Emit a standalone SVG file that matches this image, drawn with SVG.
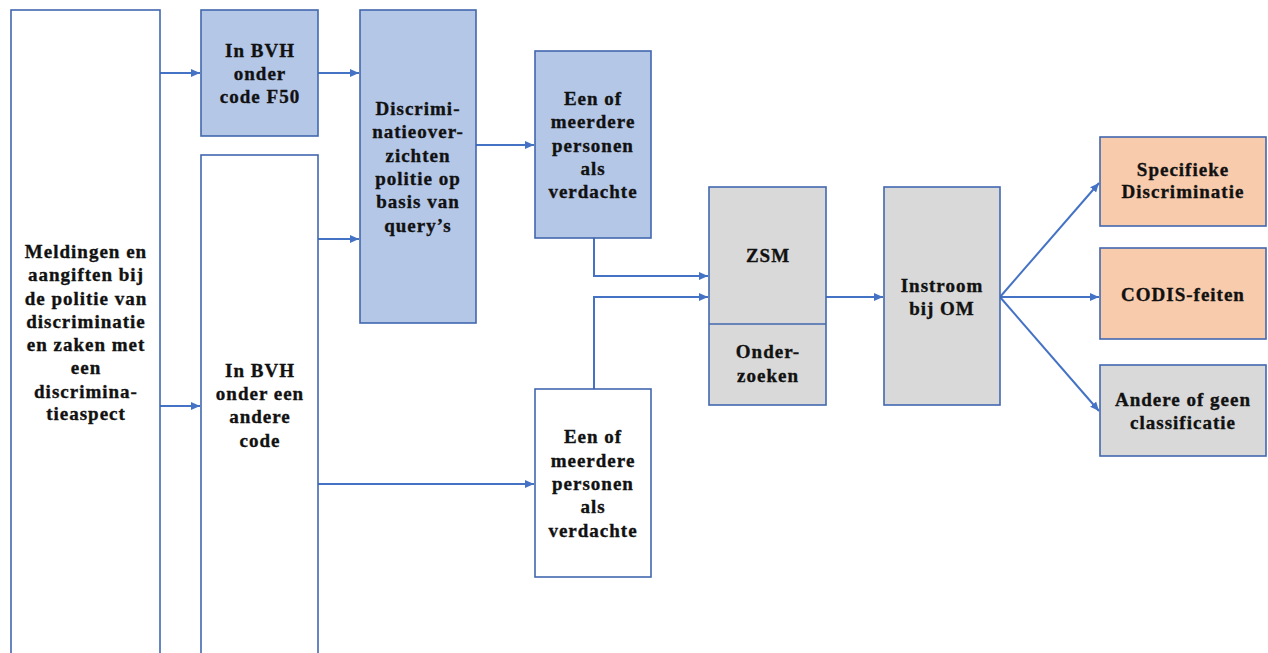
<svg xmlns="http://www.w3.org/2000/svg" width="1268" height="653" viewBox="0 0 1268 653">
<style>
.box{stroke:#4267AE;stroke-width:1.6}
.w{fill:#FFFFFF}.b{fill:#B4C7E7}.g{fill:#D9D9D9}.o{fill:#F8CBAD}
text{font-family:"Liberation Serif","Times New Roman",serif;font-weight:bold;font-size:19px;letter-spacing:1px;fill:#111;stroke:#111;stroke-width:0.35;text-anchor:middle}
.c{fill:none;stroke:#4472C4;stroke-width:2}
</style>
<defs>
<marker id="ah" markerUnits="userSpaceOnUse" markerWidth="10" markerHeight="8" refX="9" refY="4" orient="auto">
<path d="M0,0 L9,4 L0,8 Z" fill="#4472C4"/>
</marker>
</defs>
<rect width="1268" height="653" fill="#FFFFFF"/>
<g id="connectors">
<path class="c" d="M160,73 H200" marker-end="url(#ah)"/>
<path class="c" d="M318,73 H359" marker-end="url(#ah)"/>
<path class="c" d="M318,239 H359" marker-end="url(#ah)"/>
<path class="c" d="M160,406 H200" marker-end="url(#ah)"/>
<path class="c" d="M476,145 H534" marker-end="url(#ah)"/>
<path class="c" d="M318,484 H534" marker-end="url(#ah)"/>
<path class="c" d="M594,238 V276 H708" marker-end="url(#ah)"/>
<path class="c" d="M594,389 V297 H708" marker-end="url(#ah)"/>
<path class="c" d="M826,297 H883" marker-end="url(#ah)"/>
<path class="c" d="M1000,297 L1099,183" marker-end="url(#ah)"/>
<path class="c" d="M1000,297 H1099" marker-end="url(#ah)"/>
<path class="c" d="M1000,297 L1099,411" marker-end="url(#ah)"/>
</g>
<g id="meldingen">
<rect class="box w" x="11" y="10" width="149" height="700"/>
<text x="86" y="258">Meldingen en</text>
<text x="86" y="281">aangiften bij</text>
<text x="86" y="305">de politie van</text>
<text x="86" y="328">discriminatie</text>
<text x="86" y="351">en zaken  met</text>
<text x="86" y="374">een</text>
<text x="86" y="398">discrimina-</text>
<text x="86" y="420">tieaspect</text>
</g>
<g id="bvh-f50">
<rect class="box b" x="201" y="10" width="117" height="126"/>
<text x="260" y="57">In BVH</text>
<text x="260" y="80">onder</text>
<text x="260" y="103">code F50</text>
</g>
<g id="bvh-andere">
<rect class="box w" x="201" y="155" width="117" height="560"/>
<text x="260" y="377">In BVH</text>
<text x="260" y="400">onder een</text>
<text x="260" y="423">andere</text>
<text x="260" y="447">code</text>
</g>
<g id="discriminatieoverzichten">
<rect class="box b" x="360" y="10" width="116" height="313"/>
<text x="418" y="115">Discrimi-</text>
<text x="418" y="138">natieover-</text>
<text x="418" y="162">zichten</text>
<text x="418" y="185">politie op</text>
<text x="418" y="208">basis van</text>
<text x="418" y="232">query’s</text>
</g>
<g id="verdachte-blauw">
<rect class="box b" x="535" y="51" width="116" height="187"/>
<text x="593" y="105">Een of</text>
<text x="593" y="128">meerdere</text>
<text x="593" y="152">personen</text>
<text x="593" y="175">als</text>
<text x="593" y="198">verdachte</text>
</g>
<g id="verdachte-wit">
<rect class="box w" x="535" y="389" width="116" height="188"/>
<text x="593" y="443">Een of</text>
<text x="593" y="467">meerdere</text>
<text x="593" y="490">personen</text>
<text x="593" y="513">als</text>
<text x="593" y="537">verdachte</text>
</g>
<g id="zsm">
<rect class="box g" x="709" y="187" width="117" height="218"/>
<line class="box" x1="709" y1="324" x2="826" y2="324"/>
<text x="768" y="262">ZSM</text>
<text x="768" y="358">Onder-</text>
<text x="768" y="382">zoeken</text>
</g>
<g id="instroom">
<rect class="box g" x="884" y="187" width="116" height="218"/>
<text x="942" y="292">Instroom</text>
<text x="942" y="315">bij OM</text>
</g>
<g id="specifieke">
<rect class="box o" x="1100" y="137" width="166" height="89"/>
<text x="1183" y="176">Specifieke</text>
<text x="1183" y="198">Discriminatie</text>
</g>
<g id="codis">
<rect class="box o" x="1100" y="248" width="166" height="91"/>
<text x="1183" y="301">CODIS-feiten</text>
</g>
<g id="andere">
<rect class="box g" x="1100" y="365" width="166" height="91"/>
<text x="1183" y="406">Andere of geen</text>
<text x="1183" y="429">classificatie</text>
</g>
</svg>
